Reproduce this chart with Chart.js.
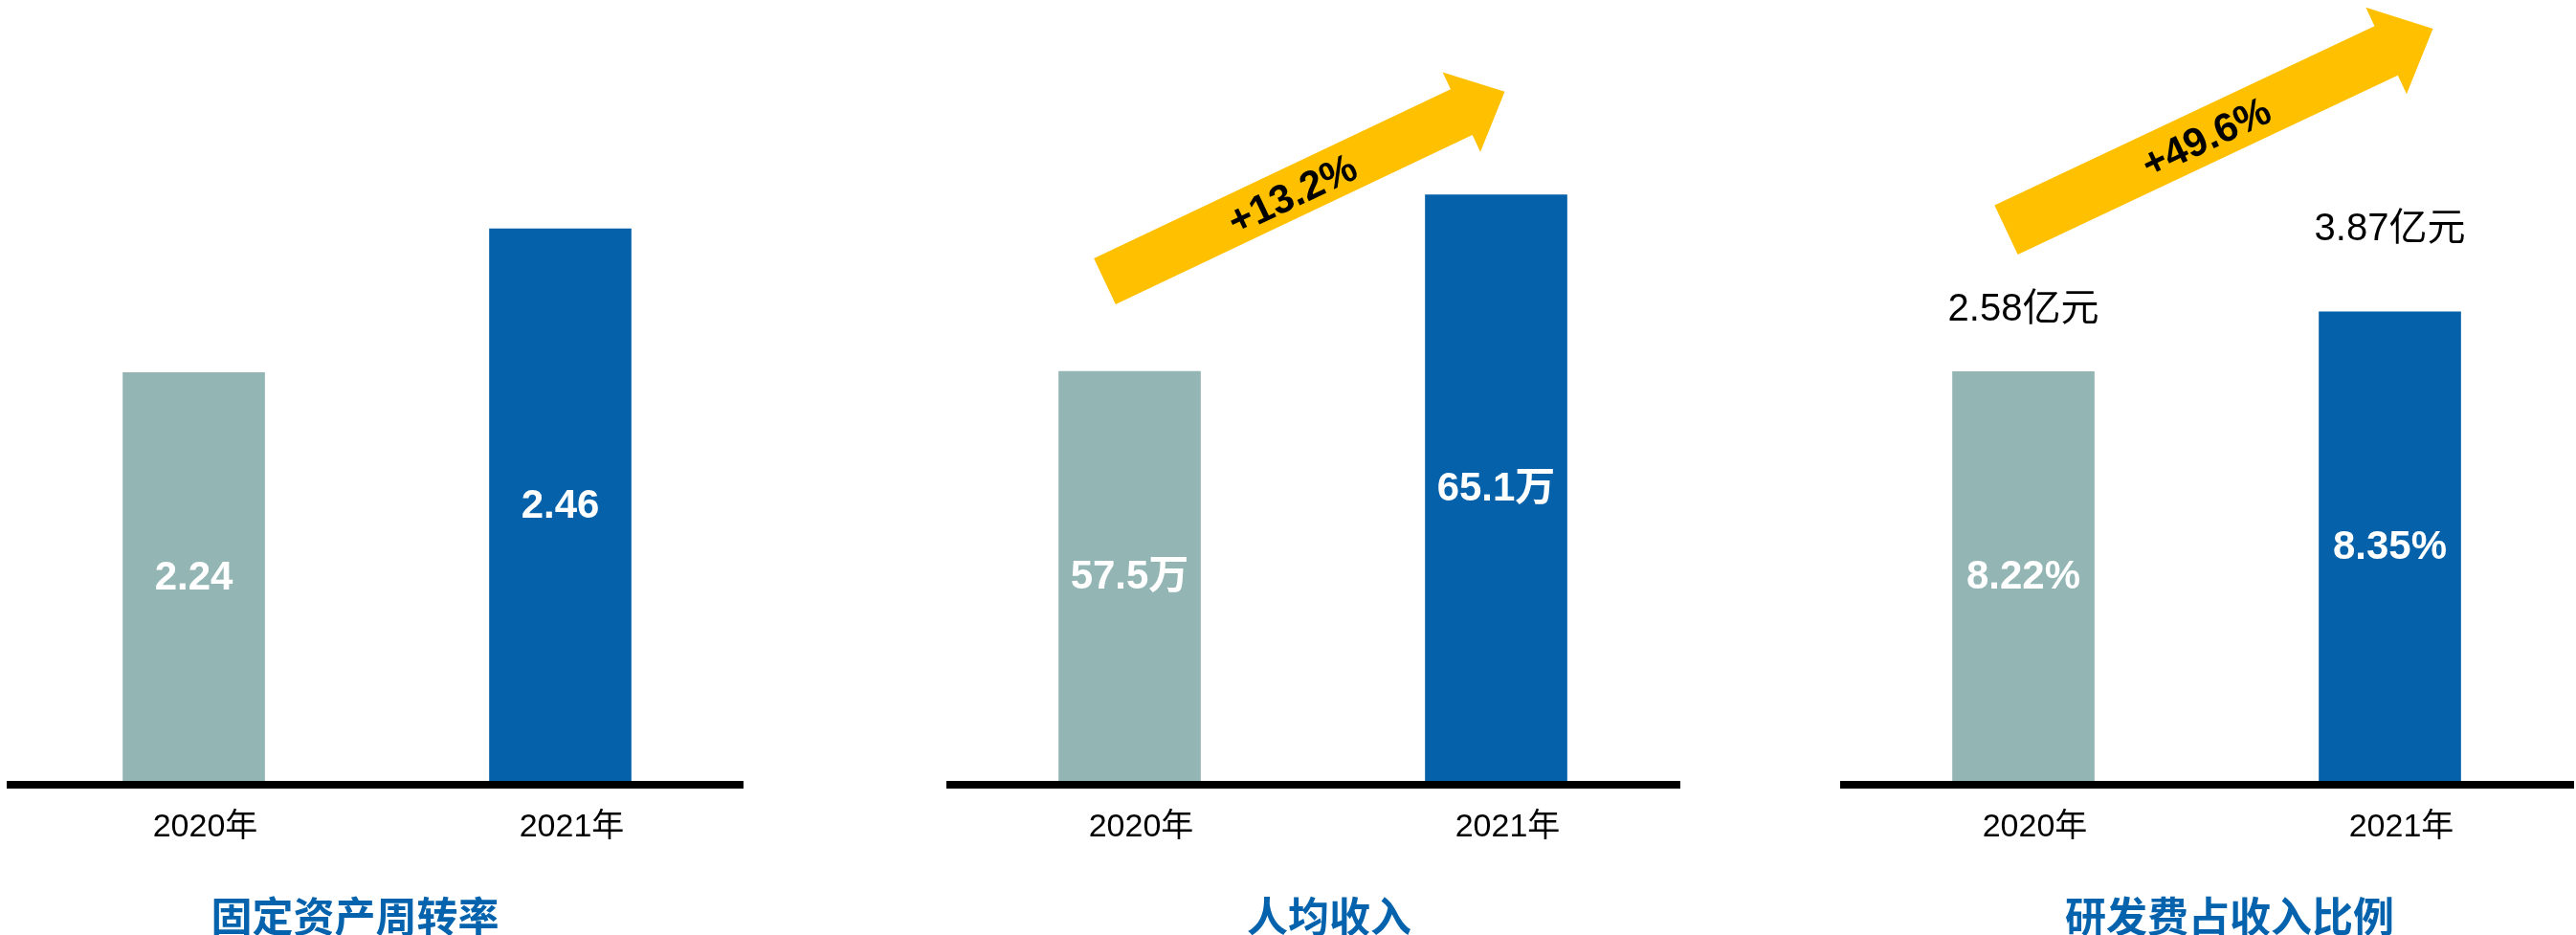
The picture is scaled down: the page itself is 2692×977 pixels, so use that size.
<!DOCTYPE html>
<html lang="zh">
<head>
<meta charset="UTF-8">
<title>经营指标</title>
<script src="https://cdn.jsdelivr.net/npm/chart.js"></script>
<style>
  html, body { margin: 0; padding: 0; background: #fff; overflow: hidden; }
  body { position: relative; width: 2692px; height: 977px; }
  .panel { position: absolute; top: 0; height: 983px; }
</style>
</head>
<body>
<div class="panel" style="left:-35px"><canvas id="turnoverChart" width="812" height="983"></canvas></div>
<div class="panel" style="left:989px"><canvas id="incomeChart" width="800" height="983"></canvas></div>
<div class="panel" style="left:1923px"><canvas id="rdChart" width="814" height="983"></canvas></div>

<script>
// data
const years = ['2020年', '2021年'];
const turnover = [2.24, 2.46];          // 固定资产周转率
const income = [57.5, 65.1];            // 人均收入（万）
const rdRatio = [8.22, 8.35];           // 研发费占收入比例（%）
const rdSpend = ['2.58亿元', '3.87亿元']; // 研发费用
const incomeGrowth = '+13.2%';
const rdGrowth = '+49.6%';

const barColors = ['#93B6B5', '#0461AA'];
const titleBlue = '#0563AD';
const arrowYellow = '#FFC000';
const latin = '"Liberation Sans", "Noto Sans CJK SC", sans-serif';

// value labels inside the bars, optional text above them, and a growth arrow
const barNotes = {
  id: 'barNotes',
  afterDatasetsDraw(chart, args, opts) {
    const ctx = chart.ctx;
    const bars = chart.getDatasetMeta(0).data;
    const base = chart.chartArea.bottom;
    ctx.save();
    ctx.textAlign = 'center';
    ctx.textBaseline = 'middle';

    ctx.font = 'bold 42px ' + latin;
    ctx.fillStyle = '#ffffff';
    bars.forEach((bar, i) => {
      ctx.fillText(opts.inside[i], bar.x, (bar.y + base) / 2);
    });

    if (opts.above) {
      ctx.font = '40px ' + latin;
      ctx.fillStyle = '#000';
      bars.forEach((bar, i) => {
        ctx.fillText(opts.above[i], bar.x, bar.y - opts.aboveGap[i]);
      });
    }

    if (opts.arrow) {
      const a = opts.arrow;
      const x0 = bars[0].x + a.from[0], y0 = bars[0].y + a.from[1];
      const x1 = bars[1].x + a.to[0], y1 = bars[1].y + a.to[1];
      const len = Math.hypot(x1 - x0, y1 - y0);
      ctx.translate(x0, y0);
      ctx.rotate(Math.atan2(y1 - y0, x1 - x0));
      ctx.beginPath();
      ctx.moveTo(0, -a.shaft / 2);
      ctx.lineTo(len - a.headLen, -a.shaft / 2);
      ctx.lineTo(len - a.headLen, -a.head / 2);
      ctx.lineTo(len, 0);
      ctx.lineTo(len - a.headLen, a.head / 2);
      ctx.lineTo(len - a.headLen, a.shaft / 2);
      ctx.lineTo(0, a.shaft / 2);
      ctx.closePath();
      ctx.fillStyle = arrowYellow;
      ctx.fill();
      ctx.font = 'bold 42px ' + latin;
      ctx.fillStyle = '#000';
      ctx.fillText(a.text, len * 0.467, 4);
    }
    ctx.restore();
  }
};

// the hidden y axis only reserves a gutter on one side, so the
// bottom title sits off-centre from the bars
function makeChart(id, values, yMin, yMax, title, side, gutter, notes) {
  return new Chart(document.getElementById(id), {
    type: 'bar',
    data: {
      labels: years,
      datasets: [{
        data: values,
        backgroundColor: barColors,
        barThickness: 148
      }]
    },
    options: {
      responsive: false,
      animation: false,
      layout: { padding: 0 },
      plugins: {
        legend: { display: false },
        tooltip: { enabled: false },
        title: {
          display: true,
          text: title,
          position: 'bottom',
          color: titleBlue,
          font: { family: '"Noto Sans CJK SC", sans-serif', size: 43, weight: 'bold', lineHeight: 1.2 },
          padding: { top: 21, bottom: 0 }
        },
        barNotes: notes
      },
      scales: {
        x: {
          grid: { display: false, drawTicks: false },
          border: { display: true, color: '#000', width: 8, z: 1 },
          ticks: {
            color: '#000',
            padding: 25,
            labelOffset: 12,
            maxRotation: 0,
            font: { family: latin, size: 34, lineHeight: 1.2 }
          }
        },
        y: {
          position: side,
          min: yMin,
          max: yMax,
          grid: { display: false, drawTicks: false },
          border: { display: false },
          ticks: { display: false },
          afterFit(scale) { scale.width = gutter; }
        }
      }
    },
    plugins: [barNotes]
  });
}

makeChart('turnoverChart', turnover, 1.61, 2.81, '固定资产周转率', 'left', 46, {
  inside: turnover.map(v => v.toFixed(2))
});

makeChart('incomeChart', income, 39.7, 73.5, '人均收入', 'right', 34, {
  inside: income.map(v => v.toFixed(1) + '万'),
  arrow: { text: incomeGrowth, from: [-26, -94], to: [9, -108], shaft: 53, head: 92, headLen: 50 }
});

makeChart('rdChart', rdRatio, 7.32, 9.03, '研发费占收入比例', 'right', 48, {
  inside: rdRatio.map(v => v.toFixed(2) + '%'),
  above: rdSpend,
  aboveGap: [64, 86],
  arrow: { text: rdGrowth, from: [-18, -148], to: [45, -296], shaft: 57, head: 100, headLen: 54 }
});
</script>
</body>
</html>
